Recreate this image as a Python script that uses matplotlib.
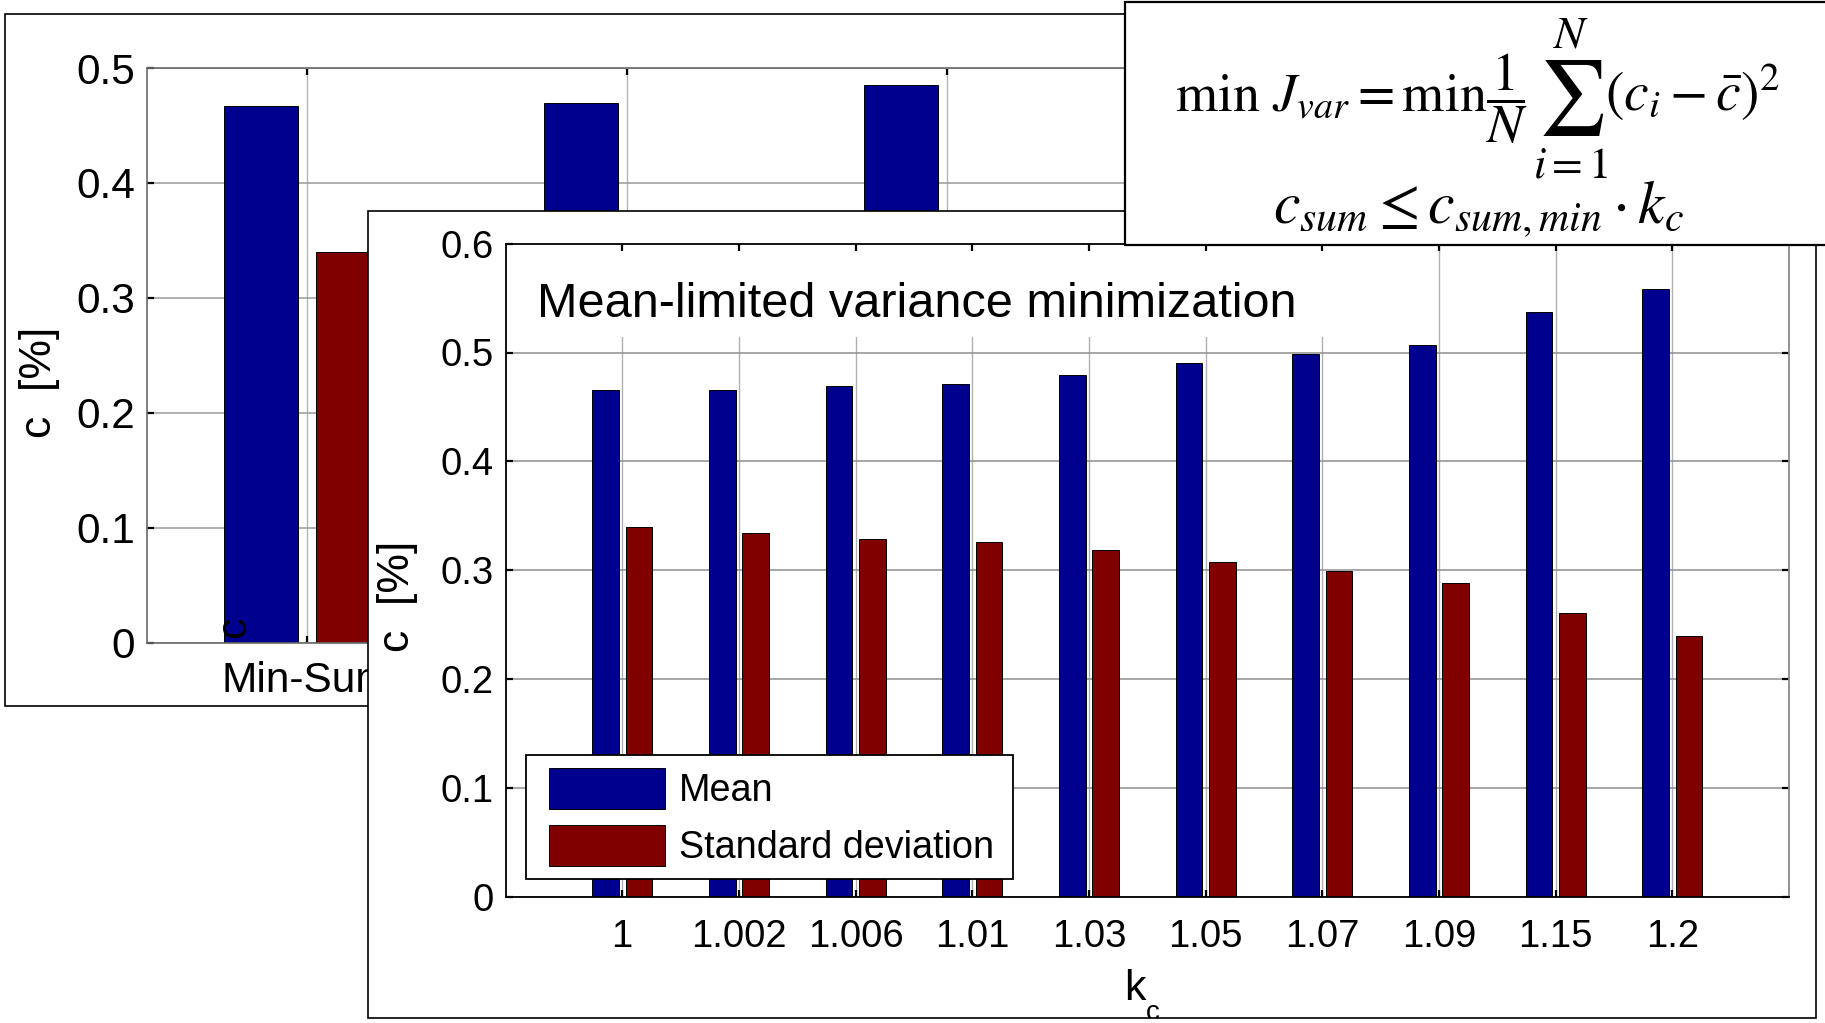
import numpy as np
import matplotlib
matplotlib.use("Agg")
import matplotlib.pyplot as plt
from matplotlib.patches import Rectangle
from matplotlib.transforms import Bbox, TransformedBbox
from matplotlib.legend_handler import HandlerPatch

# ---------------- data ----------------
kc_labels = ['1', '1.002', '1.006', '1.01', '1.03', '1.05', '1.07', '1.09', '1.15', '1.2']
mean_vals = [0.4656, 0.4656, 0.4689, 0.4708, 0.4795, 0.4901, 0.4988, 0.5070, 0.5369, 0.5581]
std_vals = [0.3402, 0.3345, 0.3291, 0.3263, 0.3186, 0.3075, 0.2993, 0.2882, 0.2612, 0.2395]
front_yticks = [0, 0.1, 0.2, 0.3, 0.4, 0.5, 0.6]
front_ytick_labels = ['0', '0.1', '0.2', '0.3', '0.4', '0.5', '0.6']

back_labels = ['Min-Sum', '', '']
back_mean = [0.4673, 0.4697, 0.4853]
back_std = [0.3403, np.nan, np.nan]          # other groups hidden behind the front panel
back_yticks = [0, 0.1, 0.2, 0.3, 0.4, 0.5]
back_ytick_labels = ['0', '0.1', '0.2', '0.3', '0.4', '0.5']

series_names = ['Mean', 'Standard deviation']
panel_title = 'Mean-limited variance minimization'
ylabel_text = 'c  [%]'
formula_left = r'$\min\ J_{var} = \min\dfrac{1}{N}$'
formula_sum = r'$\sum$'
formula_upper = r'$N$'
formula_lower = r'$i{=}1$'
formula_right = r'$(c_i - \bar{c})^2$'
formula_2 = r'$c_{sum} \leq c_{sum,min} \cdot k_c$'

# ---------------- style ----------------
BLUE = '#00008F'
RED = '#800000'
W, H = 1825, 1023
plt.rcParams['font.family'] = ['Liberation Sans', 'DejaVu Sans']

fig = plt.figure(figsize=(W / 100, H / 100), dpi=100)
fig.patch.set_facecolor('white')


def fr(l, t, r, b):
    return [l / W, 1 - b / H, (r - l) / W, (b - t) / H]


def fx(x):
    return x / W


def fy(y):
    return 1 - y / H


def frame(l, t, r, b, z, fill=True, lw=1.2):
    rect = Rectangle((fx(l), fy(b)), (r - l) / W, (b - t) / H, transform=fig.transFigure,
                     facecolor='white' if fill else 'none', edgecolor='black' if lw else 'none',
                     linewidth=lw, zorder=z)
    fig.add_artist(rect)
    return rect


# MATLAB-like grouped bar geometry
gw = min(0.8, 2 / 3.5)
off = gw / 4
bw = gw / 2 * 0.8

# ---------------- back panel ----------------
frame(4.7, 14, 1500, 706, 1)
axb = fig.add_axes(fr(146.7, 68, 1426.7, 642.7), zorder=2)
xb = np.arange(1, len(back_mean) + 1)
axb.bar(xb - off, back_mean, bw, color=BLUE, edgecolor='black', linewidth=0.7, zorder=2)
axb.bar(xb + off, back_std, bw, color=RED, edgecolor='black', linewidth=0.7, zorder=2)
axb.set_xlim(0.5, 4.5)
axb.set_ylim(0, 0.5)
axb.set_xticks(xb)
axb.set_xticklabels(back_labels, fontsize=30.5)
axb.set_yticks(back_yticks)
axb.set_yticklabels(back_ytick_labels, fontsize=30.5)
axb.tick_params(direction='in', top=True, right=True, length=5, width=1.6, color='black')
axb.tick_params(axis='x', pad=13.5)
axb.tick_params(axis='y', pad=8.4)
axb.set_axisbelow(True)
axb.grid(True, axis='y', color='#9a9a9a', linewidth=1.1)
axb.grid(True, axis='x', color='#b5b5b5', linewidth=1.0)
for s in axb.spines.values():
    s.set_color('#6a6a6a')
    s.set_linewidth(1.2)
fig.text(fx(40), fy(382), ylabel_text, rotation=90, fontsize=32, ha='center', va='center', zorder=3)
fig.text(fx(234), fy(627), 'c', rotation=90, fontsize=31, ha='center', va='center', zorder=3)

# ---------------- front panel ----------------
frame(367.5, 211, 1816, 1018, 4, fill=True, lw=0)
rect_front = fr(505.5, 243.6, 1789, 897)
axf = fig.add_axes(rect_front, zorder=5)
x = np.arange(1, len(mean_vals) + 1)
b1 = axf.bar(x - off, mean_vals, bw, color=BLUE, edgecolor='black', linewidth=0.7, zorder=2,
             label=series_names[0])
b2 = axf.bar(x + off, std_vals, bw, color=RED, edgecolor='black', linewidth=0.7, zorder=2,
             label=series_names[1])
axf.set_xlim(0, len(mean_vals) + 1)
axf.set_ylim(0, 0.6)
axf.set_xticks(x)
axf.set_yticks(front_yticks)
axf.set_axisbelow(True)
axf.grid(True, axis='y', color='#8e8e8e', linewidth=1.1)
axf.grid(True, axis='x', color='#b0b0b0', linewidth=1.0)
axf.tick_params(length=0, labelbottom=False, labelleft=False)
for s in axf.spines.values():
    s.set_visible(False)
# white background of the in-plot title
axf.add_patch(Rectangle((0.003, 0.857), 0.678, 0.143, transform=axf.transAxes,
                        facecolor='white', edgecolor='none', zorder=0.7))

axo = fig.add_axes(rect_front, zorder=6)
axo.set_facecolor('none')
axo.set_xlim(0, len(mean_vals) + 1)
axo.set_ylim(0, 0.6)
axo.set_xticks(x)
axo.set_xticklabels(kc_labels, fontsize=27.5)
axo.set_yticks(front_yticks)
axo.set_yticklabels(front_ytick_labels, fontsize=27.5)
axo.tick_params(direction='in', top=True, right=True, length=5, width=1.6, color='black')
axo.tick_params(axis='x', pad=16)
axo.tick_params(axis='y', pad=8.4)
for k, s in axo.spines.items():
    s.set_linewidth(1.3)
    s.set_color('#8a8a8a' if k == 'right' else 'black')

ax_w = 1789 - 505.5
ax_h = 897 - 243.6
leg = axo.legend([b1.patches[0], b2.patches[0]], series_names, loc='upper left',
                 bbox_to_anchor=((526 - 505.5) / ax_w, (897 - 879) / ax_h,
                                 (1013 - 526) / ax_w, (879 - 755) / ax_h),
                 mode='expand', borderaxespad=0, fontsize=27.2, handlelength=3.33,
                 handleheight=1.3, labelspacing=0.4, handletextpad=0.36, borderpad=0.35,
                 fancybox=False, framealpha=1, edgecolor='black',
                 handler_map={Rectangle: HandlerPatch(xpad=0.27)})
leg.get_frame().set_linewidth(1.3)

fig.text(fx(537), fy(317), panel_title, fontsize=35, ha='left', va='baseline', zorder=7)
fig.text(fx(397), fy(596.5), ylabel_text, rotation=90, fontsize=32, ha='center', va='center',
         zorder=7)
clip = TransformedBbox(Bbox.from_extents(fx(367.5), fy(1018), fx(1816), fy(211)), fig.transFigure)
fig.text(fx(1124), fy(1000), 'k', fontsize=31, ha='left', va='baseline', zorder=7)
tc = fig.text(fx(1146), fy(1020), 'c', fontsize=20, ha='left', va='baseline', zorder=7)
tc.set_clip_box(clip)
frame(367.5, 211, 1816, 1018, 7.5, fill=False, lw=1.2)

# ---------------- formula box ----------------
frame(1124.5, 1.7, 1835, 245, 8, fill=True, lw=1.6)
fkw = dict(math_fontfamily='stix', zorder=9)
fig.text(fx(1527), fy(111), formula_left, fontsize=39, ha='right', va='baseline', **fkw)
fig.text(fx(1571), fy(98), formula_sum, fontsize=54, ha='center', va='center', **fkw)
fig.text(fx(1571), fy(47), formula_upper, fontsize=33, ha='center', va='baseline', **fkw)
fig.text(fx(1571), fy(177), formula_lower, fontsize=32, ha='center', va='baseline', **fkw)
fig.text(fx(1605), fy(111), formula_right, fontsize=40, ha='left', va='baseline', **fkw)
fig.text(fx(1479), fy(223), formula_2, fontsize=43, ha='center', va='baseline', **fkw)

fig.savefig('out.png', dpi=100)
